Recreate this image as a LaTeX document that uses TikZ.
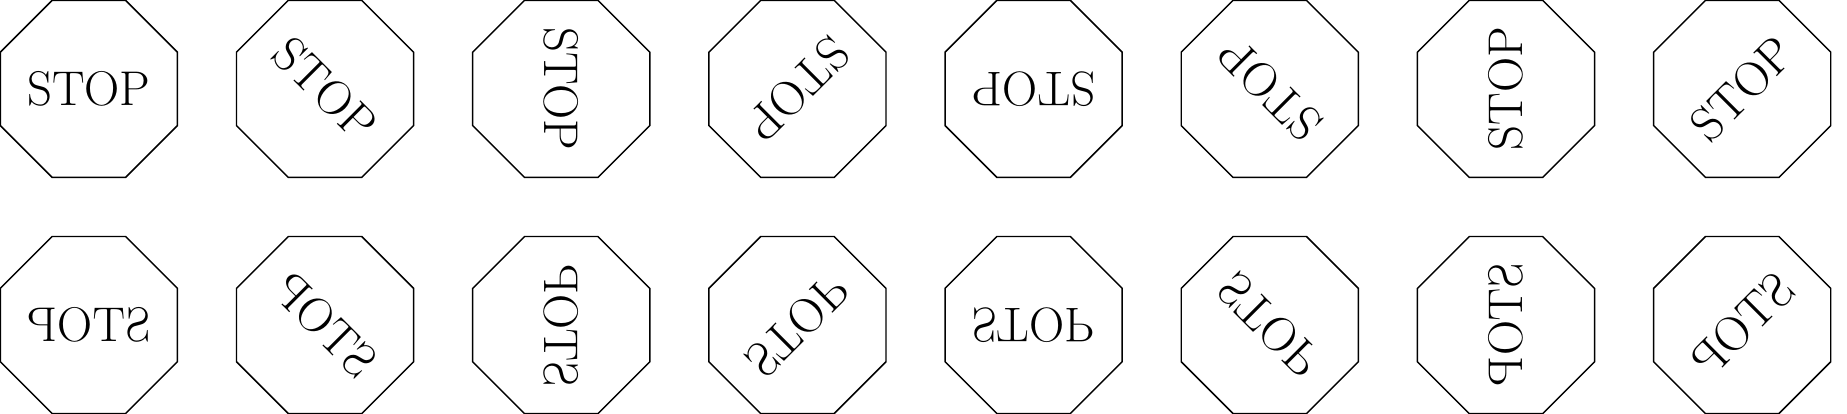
\documentclass[tikz,border=0pt]{standalone}
\usetikzlibrary{shapes.geometric}
\begin{document}
\begin{tikzpicture}[
  stopsign/.style={draw, line width=0.7pt, regular polygon, regular polygon sides=8,
    minimum size=3.247cm, inner sep=0pt, font=\fontsize{23.5}{28}\selectfont}
]
\useasboundingbox (-1.505,-5.505) rectangle (29.775,1.505);
\foreach \i in {0,...,7} {
  \pgfmathsetmacro{\ang}{-45*\i}
  \node[stopsign, rotate=\ang] (a\i) at (4*\i,0) {STOP};
  \node[stopsign, rotate=\ang, xscale=-1] (b\i) at (4*\i,-4) {STOP};
}
\end{tikzpicture}
\end{document}
